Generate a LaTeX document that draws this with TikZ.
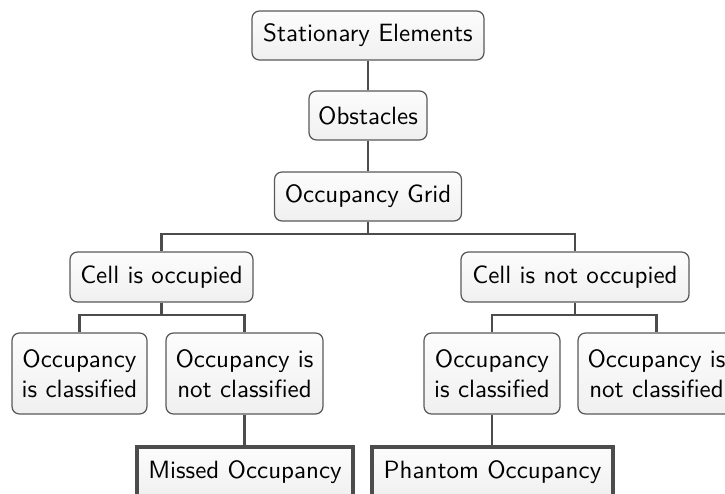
\documentclass[tikz,border=0pt]{standalone}
\usepackage{tikz}
\begin{document}
\begin{tikzpicture}[x=0.4pt,y=-0.4pt,
  font=\sffamily,
  box/.style={draw=black!65, line width=0.5pt, rounded corners=3pt,
    top color=black!1, bottom color=black!6, inner sep=0pt, align=center},
  leaf/.style={draw=black!70, line width=1.3pt, sharp corners,
    top color=black!1, bottom color=black!6, inner sep=0pt, align=center,
    minimum height=20pt},
  link/.style={draw=black!70, line width=1pt}]
\useasboundingbox (0,0) rectangle (725,493);
\clip (0,0) rectangle (725,493);

% top chain
\node[box, minimum width=92.8pt, minimum height=19.6pt] (se) at (368,35.5) {Stationary Elements};
\node[box, minimum width=47.2pt, minimum height=19.6pt] (obs) at (368,115.5) {Obstacles};
\node[box, minimum width=74.8pt, minimum height=19.6pt] (og) at (368,196.5) {Occupancy Grid};

% cell state
\node[box, minimum width=73.2pt, minimum height=20pt] (co) at (161.5,277) {Cell is occupied};
\node[box, minimum width=91.2pt, minimum height=20pt] (cno) at (575,277) {Cell is not occupied};

% classification
\node[box, minimum width=54pt, minimum height=32.4pt] (oc1) at (79.5,373.5) {Occupancy\\is classified};
\node[box, minimum width=62.8pt, minimum height=32.4pt] (onc1) at (244.5,373.5) {Occupancy is\\not classified};
\node[box, minimum width=54.4pt, minimum height=32.4pt] (oc2) at (492,373.5) {Occupancy\\is classified};
\node[box, minimum width=62.8pt, minimum height=32.4pt] (onc2) at (656.5,373.5) {Occupancy is\\not classified};

% outcomes
\node[leaf, minimum width=86.4pt] (mo) at (245,472) {Missed Occupancy};
\node[leaf, minimum width=96.4pt] (po) at (492.5,472) {Phantom Occupancy};

% connectors
\draw[link] (se) -- (obs);
\draw[link] (obs) -- (og);
\coordinate (j1) at (368,234);
\draw[link] (og.south) -- (j1) -| (co.north);
\draw[link] (j1) -| (cno.north);
\coordinate (j2) at (161.5,315);
\draw[link] (co.south) -- (j2) -| (oc1.north);
\draw[link] (j2) -| (onc1.north);
\coordinate (j3) at (575,315);
\draw[link] (cno.south) -- (j3) -| (oc2.north);
\draw[link] (j3) -| (onc2.north);
\draw[link] (onc1.south) -- (onc1.south |- mo.north);
\draw[link] (oc2.south) -- (oc2.south |- po.north);
\end{tikzpicture}
\end{document}
